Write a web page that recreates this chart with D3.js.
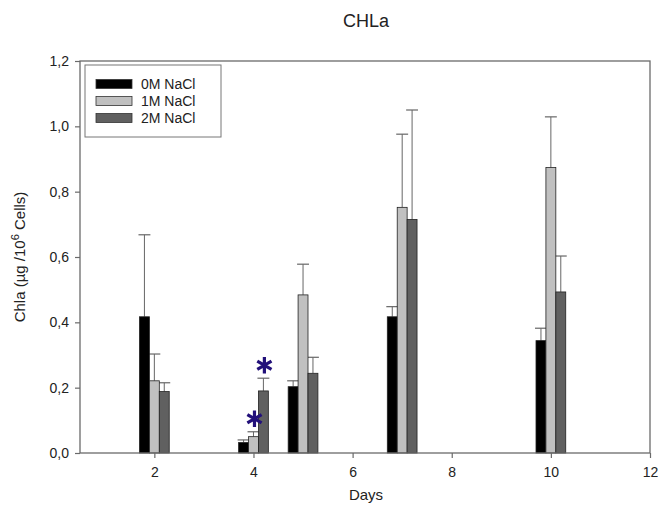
<!DOCTYPE html>
<html><head><meta charset="utf-8">
<script src="https://cdn.jsdelivr.net/npm/d3@7"></script>
<style>body{margin:0;background:#fff;} svg{display:block;font-family:"Liberation Sans",Arial,sans-serif;}</style>
</head><body>
<svg id="chart" width="659" height="517"></svg>
<script>
const days = [2, 4, 5, 7, 10];
const seriesNames = ["0M NaCl", "1M NaCl", "2M NaCl"];
const mean0M = [0.417, 0.032, 0.203, 0.417, 0.344];
const err0M  = [0.251, 0.008, 0.018, 0.031, 0.038];
const mean1M = [0.221, 0.050, 0.484, 0.752, 0.874];
const err1M  = [0.082, 0.015, 0.094, 0.224, 0.155];
const mean2M = [0.188, 0.190, 0.244, 0.715, 0.493];
const err2M  = [0.027, 0.039, 0.049, 0.335, 0.110];
const xTicks = [2, 4, 6, 8, 10, 12];
const yTicks = [0, 0.2, 0.4, 0.6, 0.8, 1.0, 1.2];
const stars = [{day: 4, series: 1}, {day: 4, series: 2}];

const colors = ["#000000", "#c0c0c0", "#606060"];
const means = [mean0M, mean1M, mean2M];
const errs = [err0M, err1M, err2M];

const svg = d3.select("#chart");
const x = d3.scaleLinear().domain([0.5, 12]).range([80, 650]);
const y = d3.scaleLinear().domain([0, 1.2]).range([453, 61]);
const barW = 0.2;
const fmt = v => d3.format(".1f")(v).replace(".", ",");

const bars = [];
seriesNames.forEach((s, si) => {
  days.forEach((d, di) => {
    bars.push({si, d, v: means[si][di], e: errs[si][di]});
  });
});
const bx = b => x(b.d + (b.si - 1) * barW - barW / 2);
const bw = x(barW) - x(0);

const eg = svg.append("g");
bars.forEach(b => {
  const cx = bx(b) + bw / 2;
  eg.append("line").attr("x1", cx).attr("x2", cx).attr("y1", y(b.v)).attr("y2", y(b.v + b.e))
    .attr("stroke", "#666").attr("stroke-width", 1);
  eg.append("line").attr("x1", cx - bw / 2 - 1).attr("x2", cx + bw / 2 + 1).attr("y1", y(b.v + b.e)).attr("y2", y(b.v + b.e))
    .attr("stroke", "#666").attr("stroke-width", 1.2);
});

svg.append("g").selectAll("rect").data(bars).join("rect")
  .attr("x", bx).attr("width", bw)
  .attr("y", b => y(b.v)).attr("height", b => y(0) - y(b.v))
  .attr("fill", b => colors[b.si]).attr("stroke", "#222").attr("stroke-width", 0.8);

svg.append("rect").attr("x", x(0.5)).attr("y", y(1.2)).attr("width", x(12) - x(0.5)).attr("height", y(0) - y(1.2))
  .attr("fill", "none").attr("stroke", "#6a6a6a").attr("stroke-width", 1.3);

const xAxis = d3.axisBottom(x).tickValues(xTicks).tickSize(5).tickPadding(9).tickFormat(d3.format("d"));
const gx = svg.append("g").attr("transform", `translate(0,${y(0)})`).call(xAxis);
const yAxis = d3.axisLeft(y).tickValues(yTicks).tickSize(5).tickPadding(6).tickFormat(fmt);
const gy = svg.append("g").attr("transform", `translate(${x(0.5)},0)`).call(yAxis);
[gx, gy].forEach(g => {
  g.select(".domain").remove();
  g.selectAll(".tick line").attr("stroke", "#6a6a6a").attr("stroke-width", 1.2);
  g.selectAll(".tick text").attr("font-size", 14).attr("fill", "#222").attr("font-family", "Liberation Sans, Arial, sans-serif");
});

stars.forEach(s => {
  const di = days.indexOf(s.day);
  const top = means[s.series][di] + errs[s.series][di];
  const b = {d: s.day, si: s.series};
  const cx = bx(b) + bw / 2 + 1;
  svg.append("path").attr("d", d3.symbol(d3.symbolAsterisk, 190)())
    .attr("transform", `translate(${cx},${y(top) - 13})`)
    .attr("fill", "none").attr("stroke", "#22107a").attr("stroke-width", 3.2);
});

const lg = svg.append("g");
lg.append("rect").attr("x", 85).attr("y", 65).attr("width", 136).attr("height", 72)
  .attr("fill", "#fff").attr("stroke", "#777").attr("stroke-width", 1);
seriesNames.forEach((s, i) => {
  const cy = 84 + i * 17;
  lg.append("rect").attr("x", 96).attr("y", cy - 4.5).attr("width", 36).attr("height", 9)
    .attr("fill", colors[i]).attr("stroke", "#333").attr("stroke-width", 0.8);
  lg.append("text").attr("x", 141).attr("y", cy).attr("dy", "0.35em").attr("font-size", 14).attr("fill", "#222").text(s);
});

svg.append("text").attr("x", 366).attr("y", 27).attr("text-anchor", "middle").attr("font-size", 18).attr("fill", "#222").text("CHLa");
svg.append("text").attr("x", 366).attr("y", 500).attr("text-anchor", "middle").attr("font-size", 15).attr("fill", "#222").text("Days");
const yl = svg.append("text").attr("transform", "translate(25,257) rotate(-90)").attr("text-anchor", "middle").attr("font-size", 15).attr("fill", "#222");
yl.append("tspan").text("Chla (µg /10");
yl.append("tspan").attr("dy", -6).attr("font-size", 11).text("6");
yl.append("tspan").attr("dy", 6).text(" Cells)");
</script>
</body></html>
